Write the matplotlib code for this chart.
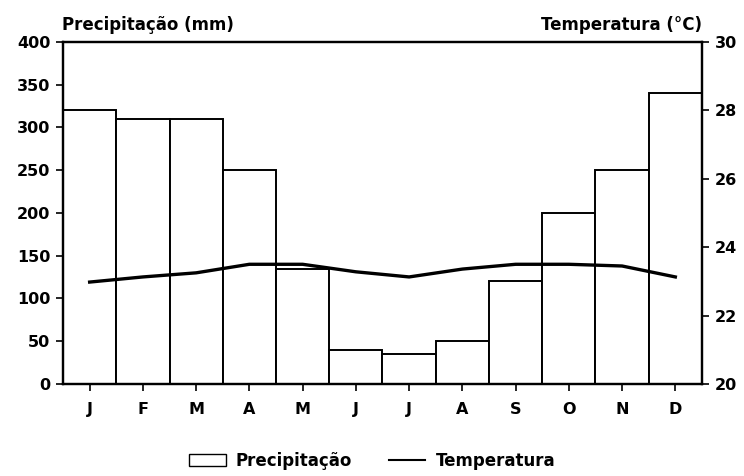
import matplotlib.pyplot as plt
from matplotlib.patches import Patch
from matplotlib.lines import Line2D

months = ["J", "F", "M", "A", "M", "J", "J", "A", "S", "O", "N", "D"]
precip_mm = [320, 310, 310, 250, 135, 40, 35, 50, 120, 200, 250, 340]
temp_c = [22.98, 23.13, 23.25, 23.5, 23.5, 23.28, 23.13, 23.36, 23.5, 23.5, 23.45, 23.13]

plt.rcParams['font.family'] = ['DejaVu Sans']
plt.rcParams['font.weight'] = 'bold'

fig = plt.figure(figsize=(7.44, 4.76), dpi=100)
ax = fig.add_axes([0.0847, 0.1933, 0.8588, 0.7185])
x = range(len(months))
ax.bar(x, precip_mm, width=1.0, color="white", edgecolor="black", linewidth=1.4, zorder=2)
ax.set_xlim(-0.5, 11.5); ax.set_ylim(0, 400)
ax.set_yticks(range(0, 401, 50))
ax.set_xticks(list(x)); ax.set_xticklabels(months)
for s in ax.spines.values(): s.set_linewidth(1.6)
ax.tick_params(axis="both", direction="out", length=5, width=1.2, labelsize=11.5, pad=4)
ax.tick_params(axis="x", pad=8)

ax2 = ax.twinx()
ax2.set_ylim(20, 30)
ax2.set_yticks(range(20, 31, 2))
ax2.plot(list(x), temp_c, color="black", linewidth=2.4, solid_joinstyle="round", zorder=3)
ax2.tick_params(axis="y", direction="out", length=5, width=1.2, labelsize=11.5, pad=4)
for s in ax2.spines.values(): s.set_linewidth(1.6)

fig.text(0.084, 0.929, "Precipitação (mm)", fontsize=12, fontweight="bold", ha="left", va="bottom")
fig.text(0.944, 0.929, "Temperatura (°C)", fontsize=12, fontweight="bold", ha="right", va="bottom")

handles = [Patch(facecolor="white", edgecolor="black", linewidth=1.0),
           Line2D([0], [0], color="black", linewidth=1.5)]
fig.legend(handles, ["Precipitação", "Temperatura"], loc="lower center", bbox_to_anchor=(0.5, -0.018),
           ncol=2, frameon=False, handlelength=2.2, handletextpad=0.6, columnspacing=2.2,
           prop={"weight": "bold", "size": 12})

fig.savefig("out.png", dpi=100)
